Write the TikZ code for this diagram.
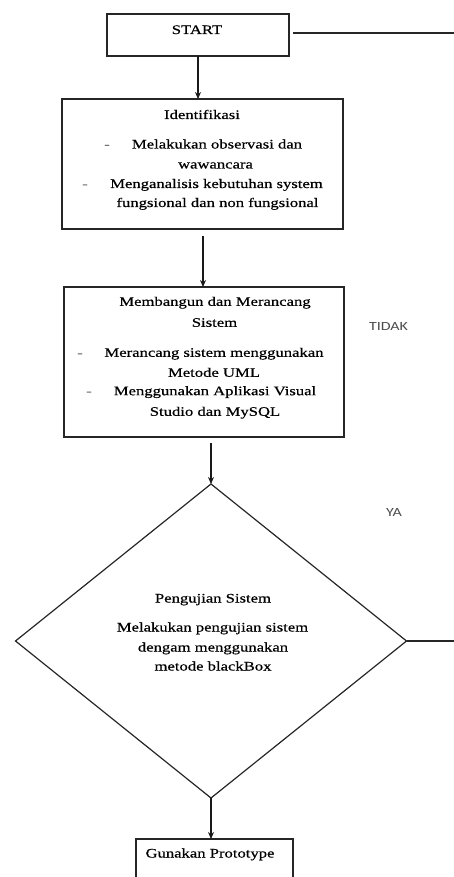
\documentclass[tikz,border=0pt]{standalone}
\usepackage{fontspec}
\setmainfont{Liberation Serif}[FakeStretch=1.28,FakeBold=0.5]
\newfontfamily\labelsans{Carlito}[FakeStretch=1.28]
\usetikzlibrary{shapes.geometric,arrows.meta}
\begin{document}
\begin{tikzpicture}[x=1pt,y=-1pt,
  boxed/.style={draw=black!85, line width=1.2pt, inner sep=0pt, outer sep=0pt},
  txt/.style={anchor=base, inner sep=0pt, font=\fontsize{13}{16}\selectfont, text=black},
  bulletmark/.style={txt, text=black!55},
  tag/.style={anchor=base, inner sep=0pt, font=\labelsans\fontsize{12.5}{15}\selectfont, text=black!70},
  flow/.style={draw=black!90, line width=1.1pt, -{Stealth[length=7pt,width=6pt]}},
  plain/.style={draw=black!85, line width=1.1pt}]
\useasboundingbox (0,0) rectangle (454,877);
\clip (0,0) rectangle (454,877);

% edge of the sheet, where the return lines leave
\coordinate (edgeA) at (454,33);

% START
\node[boxed, minimum width=182pt, minimum height=42pt] (start) at (198,35) {};
\node[txt] (startlbl) at (197,34) {START};

% Identifikasi
\node[boxed, minimum width=281pt, minimum height=130pt] (idbox) at (202.5,164) {};
\node[txt] (idtitle) at (202,119) {Identifikasi};
\node[bulletmark] (iddash1) at (107,148.5) {-};
\node[txt] (id1) at (217,148.5) {Melakukan observasi dan};
\node[txt] (id2) at (215.5,168.5) {wawancara};
\node[bulletmark] (iddash2) at (85,188) {-};
\node[txt] (id3) at (216.5,188) {Menganalisis kebutuhan system};
\node[txt] (id4) at (217.5,207) {fungsional dan non fungsional};

% Membangun dan Merancang Sistem
\node[boxed, minimum width=280pt, minimum height=150pt] (mbbox) at (204,362) {};
\node[txt] (mbtitle1) at (215,305.8) {Membangun dan Merancang};
\node[txt] (mbtitle2) at (214.5,326.8) {Sistem};
\node[bulletmark] (mbdash1) at (80,356.8) {-};
\node[txt] (mb1) at (214,356.8) {Merancang sistem menggunakan};
\node[txt] (mb2) at (214,376.8) {Metode UML};
\node[bulletmark] (mbdash2) at (89,395.2) {-};
\node[txt] (mb3) at (215,395.2) {Menggunakan Aplikasi Visual};
\node[txt] (mb4) at (215,415.8) {Studio dan MySQL};

% Pengujian Sistem (decision)
\node[boxed, shape=diamond, minimum width=391pt, minimum height=314pt] (test) at (211,641) {};
\node[txt] (testtitle) at (213,602.5) {Pengujian Sistem};
\node[txt] (test1) at (212.5,631.5) {Melakukan pengujian sistem};
\node[txt] (test2) at (213,651.5) {dengam menggunakan};
\node[txt] (test3) at (213,670.5) {metode blackBox};

% Gunakan Prototype
\node[boxed, minimum width=157pt, minimum height=50pt] (proto) at (214.5,864) {};
\node[txt] (protolbl) at (210,857.5) {Gunakan Prototype};

% branch labels
\node[tag] (tidak) at (388.5,330) {TIDAK};
\node[tag] (ya) at (394,516) {YA};

% connectors
\draw[flow] (start.south) -- (start.south |- idbox.north);
\draw[flow, shorten <=7pt] (203,0 |- idbox.south) -- (203,0 |- mbbox.north);
\draw[flow, shorten <=6pt] (mbbox.south -| test.north) -- (test.north);
\draw[flow] (test.south) -- (test.south |- proto.north);

% return lines running off to the right
\draw[plain] (start.east |- edgeA) ++(4,0) -- (edgeA);
\draw[plain] (test.east) -- (test.east -| edgeA);
\end{tikzpicture}
\end{document}
